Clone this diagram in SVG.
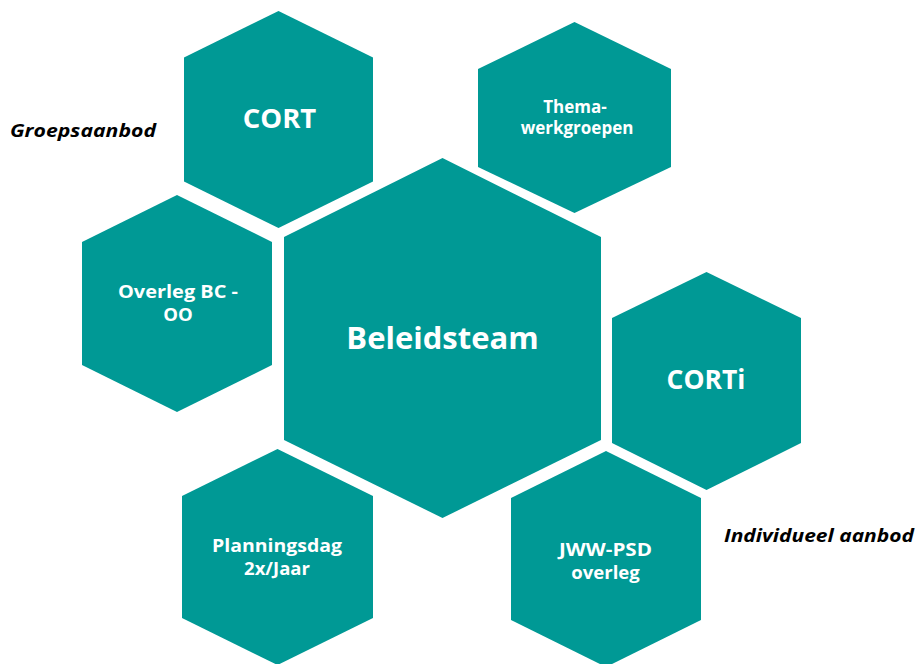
<svg xmlns="http://www.w3.org/2000/svg" width="917" height="664" viewBox="0 0 917 664">
<style>
.hex{fill:#009995;}
.t{font-family:"Open Sans","Noto Sans",sans-serif;font-weight:700;fill:#ffffff;text-anchor:middle;}
.lbl{font-family:"Open Sans","Noto Sans",sans-serif;font-weight:700;font-style:italic;fill:#000000;}
</style>
<rect width="917" height="664" fill="#ffffff"/>
<g id="connectors"></g>
<g id="cort">
<polygon class="hex" points="278.5,11 373,57.5 373,181.5 278.5,228 184,181.5 184,57.5"/>
<text class="t" x="279.5" y="128" font-size="27.5">CORT</text>
</g>
<g id="thema">
<polygon class="hex" points="574.5,22 671,69 671,167 574.5,213 478,167 478,69"/>
<text class="t" x="575" y="113" font-size="17">Thema-</text>
<text class="t" x="577" y="134" font-size="17">werkgroepen</text>
</g>
<g id="beleidsteam">
<polygon class="hex" points="442.5,158 601,237 601,440 442.5,518 284,440 284,237"/>
<text class="t" x="442.5" y="349" font-size="31">Beleidsteam</text>
</g>
<g id="overleg">
<polygon class="hex" points="177,195 272,242 272,365 177,412 82,365 82,242"/>
<text class="t" x="178" y="298" font-size="18.5" textLength="120" lengthAdjust="spacingAndGlyphs">Overleg BC -</text>
<text class="t" x="178" y="321" font-size="18.5">OO</text>
</g>
<g id="corti">
<polygon class="hex" points="706.5,272 801,318 801,443 706.5,490 612,443 612,318"/>
<text class="t" x="706" y="389" font-size="26.5">CORTi</text>
</g>
<g id="planningsdag">
<polygon class="hex" points="277.5,449 373,496 373,618 277.5,665 182,618 182,496"/>
<text class="t" x="277" y="552" font-size="18.5" textLength="130" lengthAdjust="spacingAndGlyphs">Planningsdag</text>
<text class="t" x="277" y="575" font-size="18.5">2x/Jaar</text>
</g>
<g id="jww">
<polygon class="hex" points="606,451 701,498 701,620 606,667 511,620 511,498"/>
<text class="t" x="605.5" y="556" font-size="18.5" textLength="93" lengthAdjust="spacingAndGlyphs">JWW-PSD</text>
<text class="t" x="605.5" y="579" font-size="18.5">overleg</text>
</g>
<g id="groepsaanbod">
<text class="lbl" x="10" y="137" font-size="18" textLength="146" lengthAdjust="spacingAndGlyphs">Groepsaanbod</text>
</g>
<g id="individueel">
<text class="lbl" x="724" y="542" font-size="18" textLength="190" lengthAdjust="spacingAndGlyphs">Individueel aanbod</text>
</g>
</svg>
